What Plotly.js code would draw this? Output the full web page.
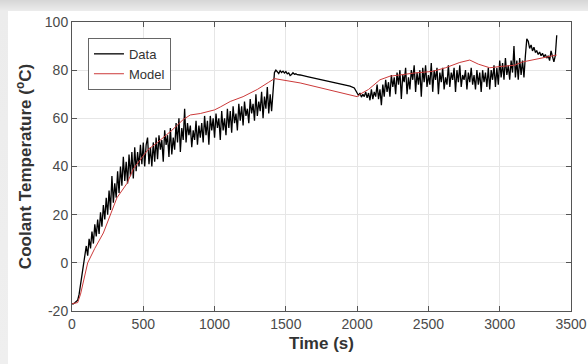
<!DOCTYPE html>
<html>
<head>
<meta charset="utf-8">
<script src="https://cdn.plot.ly/plotly-3.0.1.min.js"></script>
<style>
html,body{margin:0;padding:0;width:588px;height:364px;overflow:hidden;
background:linear-gradient(to bottom,#d6d6d6 0px,#ececec 11px,#efefef 364px);}
#plot{position:absolute;left:8px;top:11px;width:580px;height:353px;}
</style>
</head>
<body>
<div id="plot"></div>
<script>
// Measured data (time in s, temperature in °C)
const dataT = [0,10,20,30,40,50,60,70,80,90,100,110,120,130,140,150,160,170,180,190,
200,210,220,230,240,250,260,270,280,290,300,310,320,330,340,350,360,370,380,390,
400,410,420,430,440,450,460,470,480,490,500,510,520,530,540,550,560,570,580,590,
600,610,620,630,640,650,660,670,680,690,700,710,720,730,740,750,760,770,780,790,
800,810,820,830,840,850,860,870,880,890,900,910,920,930,940,950,960,970,980,990,
1000,1010,1020,1030,1040,1050,1060,1070,1080,1090,1100,1110,1120,1130,1140,1150,1160,1170,1180,1190,
1200,1210,1220,1230,1240,1250,1260,1270,1280,1290,1300,1310,1320,1330,1340,1350,1360,1370,1380,1390,
1400,1410,1420,1430,1440,1450,1460,1470,1480,1490,1500,1510,1520,1530,1540,1550,1560,1570,1580,
1600,1650,1700,1750,1800,1850,1900,1950,1980,1990,
2000,2010,2020,2030,2040,2050,2060,2070,2080,2090,2100,2110,2120,2130,2140,2150,2160,2170,2180,2190,
2200,2210,2220,2230,2240,2250,2260,2270,2280,2290,2300,2310,2320,2330,2340,2350,2360,2370,2380,2390,
2400,2410,2420,2430,2440,2450,2460,2470,2480,2490,2500,2510,2520,2530,2540,2550,2560,2570,2580,2590,
2600,2610,2620,2630,2640,2650,2660,2670,2680,2690,2700,2710,2720,2730,2740,2750,2760,2770,2780,2790,
2800,2810,2820,2830,2840,2850,2860,2870,2880,2890,2900,2910,2920,2930,2940,2950,2960,2970,2980,2990,
3000,3010,3020,3030,3040,3050,3060,3070,3080,3090,3100,3110,3120,3130,3140,3150,3160,3170,3180,3190,
3200,3210,3220,3230,3240,3250,3260,3270,3280,3290,3300,3310,3320,3330,3340,3350,3360,3370,3380,3390,3400];
const dataY = [-17,-17,-16.6,-16.2,-15.5,-13,-9,-4,0,3,7,3,10,6,13,8,16,11,18,12,
21,15,24,18,27,20,30,22,36,25,33,27,38,29,40,32,44,34,42,33,
45,36,46,35,48,38,46,40,49,41,50,40,49,52,41,48,40,50,42,52,
43,53,47,51,42,55,49,53,44,56,45,52,47,58,50,60,46,56,51,64,
50,58,53,57,48,55,51,59,49,57,52,58,50,61,53,59,49,61,55,60,
52,62,56,60,51,63,55,60,53,64,56,63,54,65,58,62,55,66,59,65,
57,67,61,64,58,68,62,66,59,70,61,67,63,71,60,69,64,73,62,70,
63,71,79,80,79.5,78.6,79.8,79,79.6,78.8,79.4,78.5,78.9,77.8,78.2,78.9,78.3,78.5,78.1,
78,77.3,76.6,76,75.3,74.7,74.1,73.4,72.6,71.5,
70.2,69.5,70.5,68.8,70,69,71,68.5,70.5,67.5,72,68,71,69,74,68,72,65.5,74,69,
76,71,75,69,78,73,77,70,79,74,80,68,78,75,81,70,77,72,80,76,
82,71,79,74,80,69,81,75,82,73,78,74,83,71,80,76,81,70,79,75,
81,72,77,74,82,73,79,76,81,71,80,75,82,73,78,76,80,72,79,75,
81,74,78,72,80,74,79,71,80,75,79,73,81,72,80,76,82,73,81,74,
84,77,83,76,85,78,82,76,84,79,90,77,84,76,85,78,84,77,86,93,
92,89,90.5,88,89.5,87.5,88,86.5,87.5,86,87,85.5,86.5,85,86,84,88,85,83.5,86,94.5];

// Model output
const modelT = [0,40,60,110,160,220,315,386,430,480,533,600,700,780,830,900,1000,1040,1110,1200,1300,1380,1420,
1600,1700,1800,1900,2000,2020,2080,2160,2230,2300,2400,2530,2620,2720,2790,2850,2930,3000,3100,3160,3250,3330,3400];
const modelY = [-17,-16.5,-13,0,6,12.4,27,33,39,43,47,50,55,59.5,61.4,62,63.5,64.7,67,69,72,75,76.5,
74.7,73.2,71.8,70.3,69,70,72,76,77.5,78,78.8,79.5,81,83.2,84.2,82.5,81,81.5,82,83.4,84.5,85.5,86.3];

const xTicks = [0,500,1000,1500,2000,2500,3000,3500];
const yTicks = [-20,0,20,40,60,80,100];

const traces = [
  {x: dataT, y: dataY, type: 'scatter', mode: 'lines', name: 'Data',
   line: {color: '#000000', width: 1.3}},
  {x: modelT, y: modelY, type: 'scatter', mode: 'lines', name: 'Model',
   line: {color: '#cc3a3a', width: 1}}
];

const axisCommon = {
  showline: true, linecolor: '#555', linewidth: 1, mirror: 'ticks',
  ticks: 'inside', ticklen: 5, tickcolor: '#555',
  showgrid: true, gridcolor: '#e6e6e6', gridwidth: 1, zeroline: false,
  tickfont: {family: 'Liberation Sans, Arial, sans-serif', size: 14, color: '#4a4a4a'}
};

const layout = {
  width: 580, height: 353,
  margin: {l: 64, r: 17, t: 11, b: 53},
  paper_bgcolor: '#ffffff', plot_bgcolor: '#ffffff',
  showlegend: true,
  legend: {x: 0.032, y: 0.945, xanchor: 'left', yanchor: 'top',
    bgcolor: '#ffffff', bordercolor: '#666', borderwidth: 1,
    font: {family: 'Liberation Sans, Arial, sans-serif', size: 13, color: '#333'},
    tracegroupgap: 0},
  xaxis: Object.assign({}, axisCommon, {
    range: [0, 3500], tickvals: xTicks, ticktext: xTicks.map(String),
    title: {text: 'Time (s)', standoff: 6,
      font: {family: 'Liberation Sans, Arial, sans-serif', size: 17, color: '#333', weight: 'bold'}}
  }),
  yaxis: Object.assign({}, axisCommon, {
    range: [-20, 100], tickvals: yTicks, ticktext: yTicks.map(String),
    title: {text: 'Coolant Temperature (<sup>o</sup>C)', standoff: 8,
      font: {family: 'Liberation Sans, Arial, sans-serif', size: 17, color: '#333', weight: 'bold'}}
  })
};

Plotly.newPlot('plot', traces, layout, {displayModeBar: false, staticPlot: true});
</script>
</body>
</html>
